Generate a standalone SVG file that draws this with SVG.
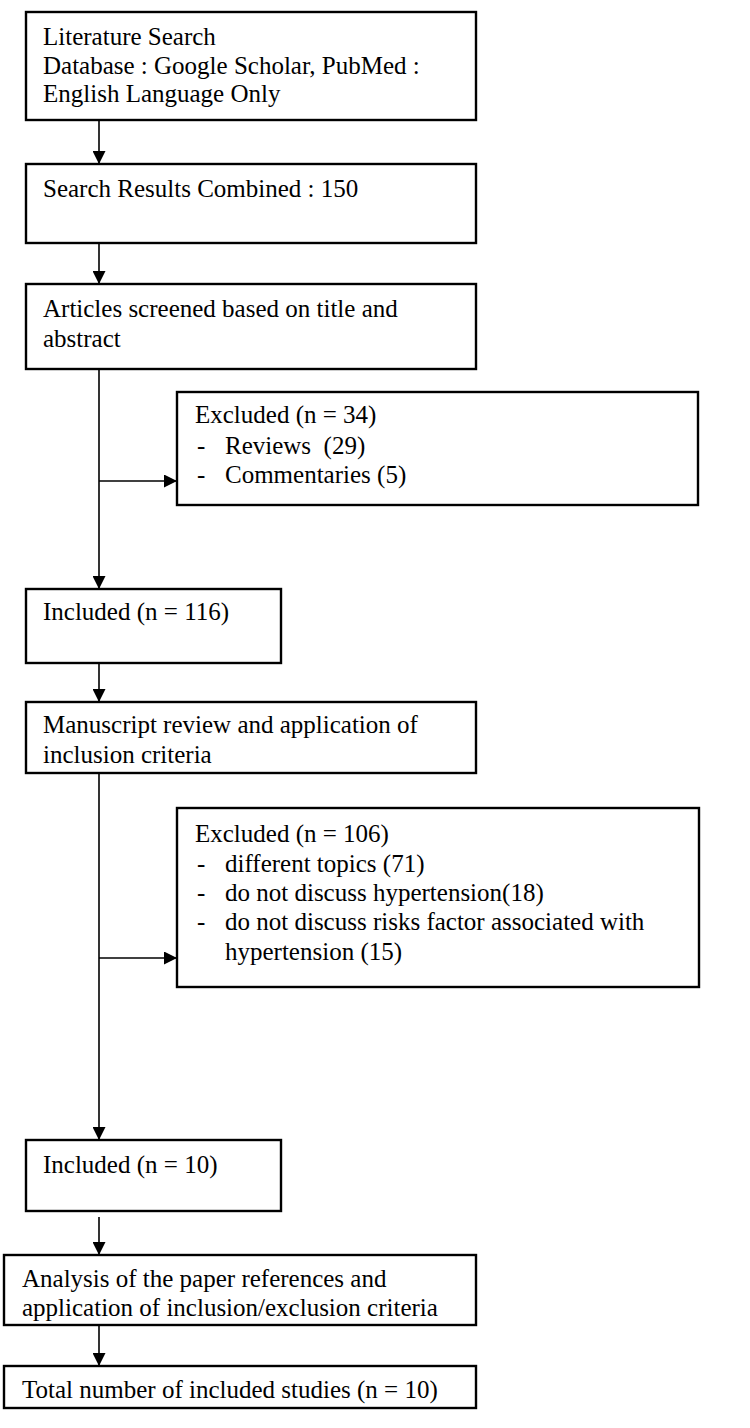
<svg xmlns="http://www.w3.org/2000/svg" width="750" height="1428" viewBox="0 0 750 1428">
<style>
.box{fill:#fff;stroke:#000;stroke-width:2.4}
.t{font-family:"Liberation Serif","Times New Roman",serif;font-size:25px;fill:#000}
.c{fill:none;stroke:#000;stroke-width:1.6}
</style>
<defs>
<marker id="ah" markerUnits="userSpaceOnUse" markerWidth="13" markerHeight="13" refX="13" refY="6.5" orient="auto">
<path d="M0,0 L13,6.5 L0,13 z" fill="#000"/>
</marker>
</defs>
<rect width="750" height="1428" fill="#fff"/>
<g id="connectors">
<line class="c" x1="99" y1="120" x2="99" y2="164" marker-end="url(#ah)"/>
<line class="c" x1="99" y1="243" x2="99" y2="284" marker-end="url(#ah)"/>
<line class="c" x1="99" y1="369" x2="99" y2="589" marker-end="url(#ah)"/>
<line class="c" x1="99" y1="481" x2="177" y2="481" marker-end="url(#ah)"/>
<line class="c" x1="99" y1="663" x2="99" y2="702" marker-end="url(#ah)"/>
<line class="c" x1="99" y1="773" x2="99" y2="1140" marker-end="url(#ah)"/>
<line class="c" x1="99" y1="958" x2="177" y2="958" marker-end="url(#ah)"/>
<line class="c" x1="99" y1="1217" x2="99" y2="1255" marker-end="url(#ah)"/>
<line class="c" x1="99" y1="1325" x2="99" y2="1366" marker-end="url(#ah)"/>
</g>
<g id="n1">
<rect class="box" x="26" y="12" width="450" height="108"/>
<text class="t" x="43" y="45">Literature Search</text>
<text class="t" x="43" y="74">Database : Google Scholar, PubMed :</text>
<text class="t" x="43" y="102">English Language Only</text>
</g>
<g id="n2">
<rect class="box" x="26" y="164" width="450" height="79"/>
<text class="t" x="43" y="197">Search Results Combined : 150</text>
</g>
<g id="n3">
<rect class="box" x="26" y="284" width="450" height="85"/>
<text class="t" x="43" y="317">Articles screened based on title and</text>
<text class="t" x="43" y="347">abstract</text>
</g>
<g id="n4">
<rect class="box" x="177" y="392" width="521" height="113"/>
<text class="t" x="195" y="423">Excluded (n = 34)</text>
<text class="t" x="197" y="454">-</text>
<text class="t" x="225" y="454" style="white-space:pre">Reviews  (29)</text>
<text class="t" x="197" y="483">-</text>
<text class="t" x="225" y="483">Commentaries (5)</text>
</g>
<g id="n5">
<rect class="box" x="26" y="589" width="255" height="74"/>
<text class="t" x="43" y="620">Included (n = 116)</text>
</g>
<g id="n6">
<rect class="box" x="26" y="702" width="450" height="71"/>
<text class="t" x="43" y="733">Manuscript review and application of</text>
<text class="t" x="43" y="763">inclusion criteria</text>
</g>
<g id="n7">
<rect class="box" x="177" y="808" width="522" height="179"/>
<text class="t" x="195" y="842">Excluded (n = 106)</text>
<text class="t" x="197" y="872">-</text>
<text class="t" x="225" y="872">different topics (71)</text>
<text class="t" x="197" y="901">-</text>
<text class="t" x="225" y="901">do not discuss hypertension(18)</text>
<text class="t" x="197" y="930">-</text>
<text class="t" x="225" y="930">do not discuss risks factor associated with</text>
<text class="t" x="225" y="960">hypertension (15)</text>
</g>
<g id="n8">
<rect class="box" x="26" y="1140" width="255" height="71"/>
<text class="t" x="43" y="1173">Included (n = 10)</text>
</g>
<g id="n9">
<rect class="box" x="4" y="1255" width="472" height="70"/>
<text class="t" x="22" y="1287">Analysis of the paper references and</text>
<text class="t" x="22" y="1316">application of inclusion/exclusion criteria</text>
</g>
<g id="n10">
<rect class="box" x="4" y="1366" width="472" height="42"/>
<text class="t" x="22" y="1398">Total number of included studies (n = 10)</text>
</g>
</svg>
